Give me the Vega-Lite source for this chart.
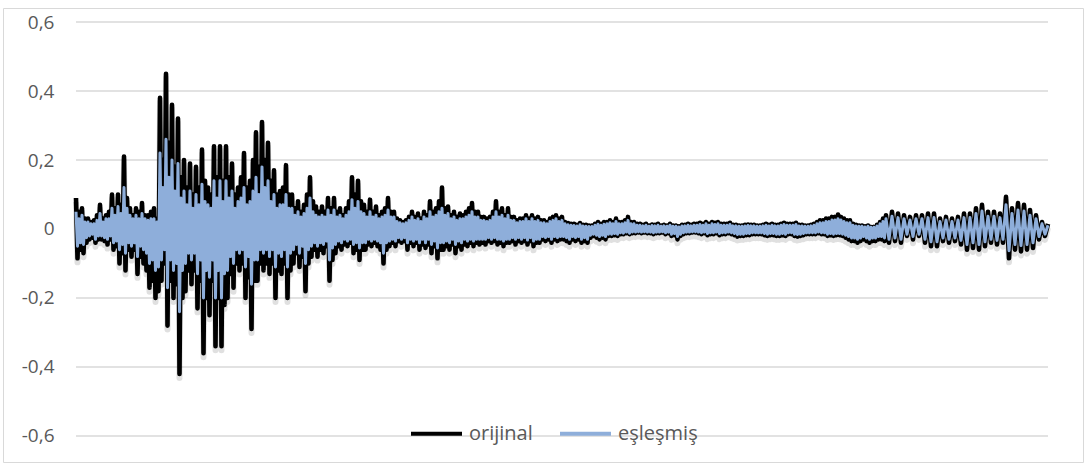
{
"$schema": "https://vega.github.io/schema/vega-lite/v6.json",
"width": 1080,
"height": 454,
"autosize": {"type": "none"},
"padding": {"left": 3, "top": 8, "right": 3, "bottom": 5},
"background": "#ffffff",
"config": {
  "view": {"stroke": "#d9d9d9", "strokeWidth": 1},
  "font": "Open Sans",
  "legend": {"labelFont": "Open Sans", "labelFontSize": 20, "labelColor": "#595959"},
  "axisY": {"labelFont": "Open Sans", "labelFontSize": 19, "labelColor": "#595959"}
},
"datasets": {
  "grid": [{"g": -0.6}, {"g": -0.4}, {"g": -0.2}, {"g": 0}, {"g": 0.2}, {"g": 0.4}, {"g": 0.6}],
  "sig": [
{"t":0,"o":0.09,"e":0.05},{"t":0.5,"o":-0.085,"e":-0.05},{"t":1,"o":0.05,"e":0.03},{"t":1.5,"o":-0.06,"e":-0.04},
{"t":2,"o":0.06,"e":0.04},{"t":2.5,"o":-0.07,"e":-0.045},{"t":3,"o":0.03,"e":0.02},{"t":3.5,"o":-0.04,"e":-0.025},
{"t":4,"o":0.03,"e":0.02},{"t":4.5,"o":-0.03,"e":-0.02},{"t":5,"o":0.02,"e":0.015},{"t":5.5,"o":-0.025,"e":-0.015},
{"t":6,"o":0.025,"e":0.015},{"t":6.5,"o":-0.04,"e":-0.03},{"t":7,"o":0.04,"e":0.025},{"t":7.5,"o":-0.03,"e":-0.02},
{"t":8,"o":0.07,"e":0.045},{"t":8.5,"o":-0.03,"e":-0.02},{"t":9,"o":0.03,"e":0.02},{"t":9.5,"o":-0.035,"e":-0.025},
{"t":10,"o":0.04,"e":0.03},{"t":10.5,"o":-0.045,"e":-0.03},{"t":11,"o":0.05,"e":0.03},{"t":11.5,"o":-0.03,"e":-0.02},
{"t":12,"o":0.1,"e":0.06},{"t":12.5,"o":-0.06,"e":-0.04},{"t":13,"o":0.06,"e":0.04},{"t":13.5,"o":-0.05,"e":-0.035},
{"t":14,"o":0.1,"e":0.065},{"t":14.5,"o":-0.1,"e":-0.06},{"t":15,"o":0.07,"e":0.045},{"t":15.5,"o":-0.07,"e":-0.045},
{"t":16,"o":0.21,"e":0.12},{"t":16.5,"o":-0.12,"e":-0.07},{"t":17,"o":0.09,"e":0.06},{"t":17.5,"o":-0.06,"e":-0.04},
{"t":18,"o":0.06,"e":0.04},{"t":18.5,"o":-0.08,"e":-0.05},{"t":19,"o":0.04,"e":0.03},{"t":19.5,"o":-0.06,"e":-0.04},
{"t":20,"o":0.06,"e":0.04},{"t":20.5,"o":-0.13,"e":-0.08},{"t":21,"o":0.05,"e":0.03},{"t":21.5,"o":-0.08,"e":-0.05},
{"t":22,"o":0.075,"e":0.045},{"t":22.5,"o":-0.1,"e":-0.06},{"t":23,"o":0.04,"e":0.03},{"t":23.5,"o":-0.12,"e":-0.07},
{"t":24,"o":0.04,"e":0.025},{"t":24.5,"o":-0.17,"e":-0.1},{"t":25,"o":0.05,"e":0.03},{"t":25.5,"o":-0.15,"e":-0.09},
{"t":26,"o":0.06,"e":0.03},{"t":26.5,"o":-0.2,"e":-0.12},{"t":27,"o":0.03,"e":0.02},{"t":27.5,"o":-0.18,"e":-0.11},
{"t":28,"o":0.38,"e":0.22},{"t":28.5,"o":-0.15,"e":-0.09},{"t":29,"o":0.2,"e":0.12},{"t":29.5,"o":-0.1,"e":-0.06},
{"t":30,"o":0.45,"e":0.26},{"t":30.5,"o":-0.28,"e":-0.17},{"t":31,"o":0.25,"e":0.15},{"t":31.5,"o":-0.15,"e":-0.09},
{"t":32,"o":0.36,"e":0.2},{"t":32.5,"o":-0.2,"e":-0.12},{"t":33,"o":0.18,"e":0.11},{"t":33.5,"o":-0.16,"e":-0.1},
{"t":34,"o":0.32,"e":0.19},{"t":34.5,"o":-0.42,"e":-0.24},{"t":35,"o":0.15,"e":0.09},{"t":35.5,"o":-0.2,"e":-0.12},
{"t":36,"o":0.2,"e":0.11},{"t":36.5,"o":-0.18,"e":-0.1},{"t":37,"o":0.12,"e":0.07},{"t":37.5,"o":-0.12,"e":-0.07},
{"t":38,"o":0.19,"e":0.11},{"t":38.5,"o":-0.16,"e":-0.09},{"t":39,"o":0.1,"e":0.06},{"t":39.5,"o":-0.12,"e":-0.07},
{"t":40,"o":0.18,"e":0.1},{"t":40.5,"o":-0.23,"e":-0.13},{"t":41,"o":0.12,"e":0.07},{"t":41.5,"o":-0.15,"e":-0.09},
{"t":42,"o":0.23,"e":0.13},{"t":42.5,"o":-0.36,"e":-0.2},{"t":43,"o":0.14,"e":0.08},{"t":43.5,"o":-0.2,"e":-0.12},
{"t":44,"o":0.12,"e":0.07},{"t":44.5,"o":-0.25,"e":-0.14},{"t":45,"o":0.1,"e":0.06},{"t":45.5,"o":-0.15,"e":-0.09},
{"t":46,"o":0.24,"e":0.14},{"t":46.5,"o":-0.34,"e":-0.2},{"t":47,"o":0.15,"e":0.09},{"t":47.5,"o":-0.2,"e":-0.12},
{"t":48,"o":0.24,"e":0.14},{"t":48.5,"o":-0.34,"e":-0.2},{"t":49,"o":0.14,"e":0.08},{"t":49.5,"o":-0.22,"e":-0.13},
{"t":50,"o":0.24,"e":0.14},{"t":50.5,"o":-0.2,"e":-0.12},{"t":51,"o":0.15,"e":0.09},{"t":51.5,"o":-0.13,"e":-0.08},
{"t":52,"o":0.19,"e":0.11},{"t":52.5,"o":-0.17,"e":-0.1},{"t":53,"o":0.1,"e":0.06},{"t":53.5,"o":-0.1,"e":-0.06},
{"t":54,"o":0.12,"e":0.08},{"t":54.5,"o":-0.12,"e":-0.07},{"t":55,"o":0.15,"e":0.09},{"t":55.5,"o":-0.1,"e":-0.06},
{"t":56,"o":0.22,"e":0.12},{"t":56.5,"o":-0.2,"e":-0.11},{"t":57,"o":0.12,"e":0.07},{"t":57.5,"o":-0.14,"e":-0.08},
{"t":58,"o":0.14,"e":0.08},{"t":58.5,"o":-0.29,"e":-0.16},{"t":59,"o":0.2,"e":0.11},{"t":59.5,"o":-0.15,"e":-0.09},
{"t":60,"o":0.28,"e":0.15},{"t":60.5,"o":-0.15,"e":-0.09},{"t":61,"o":0.18,"e":0.1},{"t":61.5,"o":-0.1,"e":-0.06},
{"t":62,"o":0.31,"e":0.18},{"t":62.5,"o":-0.12,"e":-0.07},{"t":63,"o":0.2,"e":0.12},{"t":63.5,"o":-0.1,"e":-0.06},
{"t":64,"o":0.25,"e":0.14},{"t":64.5,"o":-0.13,"e":-0.08},{"t":65,"o":0.14,"e":0.08},{"t":65.5,"o":-0.1,"e":-0.06},
{"t":66,"o":0.17,"e":0.1},{"t":66.5,"o":-0.2,"e":-0.11},{"t":67,"o":0.1,"e":0.06},{"t":67.5,"o":-0.12,"e":-0.07},
{"t":68,"o":0.11,"e":0.07},{"t":68.5,"o":-0.13,"e":-0.08},{"t":69,"o":0.12,"e":0.07},{"t":69.5,"o":-0.1,"e":-0.06},
{"t":70,"o":0.185,"e":0.1},{"t":70.5,"o":-0.2,"e":-0.11},{"t":71,"o":0.1,"e":0.06},{"t":71.5,"o":-0.12,"e":-0.07},
{"t":72,"o":0.1,"e":0.06},{"t":72.5,"o":-0.1,"e":-0.06},{"t":73,"o":0.06,"e":0.04},{"t":73.5,"o":-0.07,"e":-0.045},
{"t":74,"o":0.08,"e":0.05},{"t":74.5,"o":-0.11,"e":-0.07},{"t":75,"o":0.05,"e":0.035},{"t":75.5,"o":-0.08,"e":-0.05},
{"t":76,"o":0.07,"e":0.045},{"t":76.5,"o":-0.18,"e":-0.1},{"t":77,"o":0.1,"e":0.06},{"t":77.5,"o":-0.1,"e":-0.06},
{"t":78,"o":0.15,"e":0.09},{"t":78.5,"o":-0.08,"e":-0.05},{"t":79,"o":0.08,"e":0.05},{"t":79.5,"o":-0.06,"e":-0.04},
{"t":80,"o":0.065,"e":0.04},{"t":80.5,"o":-0.08,"e":-0.05},{"t":81,"o":0.05,"e":0.035},{"t":81.5,"o":-0.06,"e":-0.04},
{"t":82,"o":0.065,"e":0.04},{"t":82.5,"o":-0.07,"e":-0.045},{"t":83,"o":0.05,"e":0.035},{"t":83.5,"o":-0.05,"e":-0.035},
{"t":84,"o":0.09,"e":0.055},{"t":84.5,"o":-0.15,"e":-0.09},{"t":85,"o":0.06,"e":0.04},{"t":85.5,"o":-0.09,"e":-0.055},
{"t":86,"o":0.09,"e":0.055},{"t":86.5,"o":-0.07,"e":-0.045},{"t":87,"o":0.05,"e":0.035},{"t":87.5,"o":-0.05,"e":-0.035},
{"t":88,"o":0.06,"e":0.04},{"t":88.5,"o":-0.06,"e":-0.04},{"t":89,"o":0.04,"e":0.03},{"t":89.5,"o":-0.045,"e":-0.03},
{"t":90,"o":0.06,"e":0.04},{"t":90.5,"o":-0.05,"e":-0.035},{"t":91,"o":0.08,"e":0.05},{"t":91.5,"o":-0.04,"e":-0.03},
{"t":92,"o":0.15,"e":0.085},{"t":92.5,"o":-0.07,"e":-0.045},{"t":93,"o":0.1,"e":0.06},{"t":93.5,"o":-0.06,"e":-0.04},
{"t":94,"o":0.14,"e":0.08},{"t":94.5,"o":-0.09,"e":-0.055},{"t":95,"o":0.08,"e":0.05},{"t":95.5,"o":-0.06,"e":-0.04},
{"t":96,"o":0.07,"e":0.045},{"t":96.5,"o":-0.06,"e":-0.04},{"t":97,"o":0.05,"e":0.035},{"t":97.5,"o":-0.045,"e":-0.03},
{"t":98,"o":0.085,"e":0.05},{"t":98.5,"o":-0.05,"e":-0.035},{"t":99,"o":0.05,"e":0.035},{"t":99.5,"o":-0.04,"e":-0.03},
{"t":100,"o":0.065,"e":0.04},{"t":100.5,"o":-0.05,"e":-0.035},{"t":101,"o":0.04,"e":0.03},{"t":101.5,"o":-0.06,"e":-0.04},
{"t":102,"o":0.05,"e":0.035},{"t":102.5,"o":-0.1,"e":-0.07},{"t":103,"o":0.06,"e":0.04},{"t":103.5,"o":-0.06,"e":-0.04},
{"t":104,"o":0.09,"e":0.055},{"t":104.5,"o":-0.05,"e":-0.035},{"t":105,"o":0.05,"e":0.035},{"t":105.5,"o":-0.04,"e":-0.03},
{"t":106,"o":0.05,"e":0.035},{"t":106.5,"o":-0.05,"e":-0.035},{"t":107,"o":0.03,"e":0.022},{"t":107.5,"o":-0.035,"e":-0.025},
{"t":108,"o":0.025,"e":0.018},{"t":108.5,"o":-0.04,"e":-0.03},{"t":109,"o":0.02,"e":0.015},{"t":109.5,"o":-0.035,"e":-0.025},
{"t":110,"o":0.025,"e":0.018},{"t":110.5,"o":-0.06,"e":-0.04},{"t":111,"o":0.035,"e":0.025},{"t":111.5,"o":-0.04,"e":-0.03},
{"t":112,"o":0.05,"e":0.035},{"t":112.5,"o":-0.05,"e":-0.035},{"t":113,"o":0.035,"e":0.025},{"t":113.5,"o":-0.04,"e":-0.03},
{"t":114,"o":0.045,"e":0.03},{"t":114.5,"o":-0.06,"e":-0.04},{"t":115,"o":0.03,"e":0.022},{"t":115.5,"o":-0.045,"e":-0.03},
{"t":116,"o":0.05,"e":0.035},{"t":116.5,"o":-0.055,"e":-0.04},{"t":117,"o":0.04,"e":0.03},{"t":117.5,"o":-0.045,"e":-0.03},
{"t":118,"o":0.08,"e":0.05},{"t":118.5,"o":-0.07,"e":-0.045},{"t":119,"o":0.05,"e":0.035},{"t":119.5,"o":-0.05,"e":-0.035},
{"t":120,"o":0.06,"e":0.04},{"t":120.5,"o":-0.085,"e":-0.055},{"t":121,"o":0.08,"e":0.05},{"t":121.5,"o":-0.06,"e":-0.04},
{"t":122,"o":0.12,"e":0.06},{"t":122.5,"o":-0.06,"e":-0.04},{"t":123,"o":0.06,"e":0.04},{"t":123.5,"o":-0.05,"e":-0.035},
{"t":124,"o":0.065,"e":0.045},{"t":124.5,"o":-0.06,"e":-0.04},{"t":125,"o":0.04,"e":0.03},{"t":125.5,"o":-0.045,"e":-0.03},
{"t":126,"o":0.05,"e":0.035},{"t":126.5,"o":-0.07,"e":-0.045},{"t":127,"o":0.035,"e":0.025},{"t":127.5,"o":-0.05,"e":-0.035},
{"t":128,"o":0.045,"e":0.03},{"t":128.5,"o":-0.06,"e":-0.04},{"t":129,"o":0.04,"e":0.03},{"t":129.5,"o":-0.045,"e":-0.03},
{"t":130,"o":0.05,"e":0.035},{"t":130.5,"o":-0.05,"e":-0.035},{"t":131,"o":0.06,"e":0.04},{"t":131.5,"o":-0.04,"e":-0.03},
{"t":132,"o":0.075,"e":0.05},{"t":132.5,"o":-0.05,"e":-0.035},{"t":133,"o":0.05,"e":0.035},{"t":133.5,"o":-0.04,"e":-0.03},
{"t":134,"o":0.05,"e":0.035},{"t":134.5,"o":-0.045,"e":-0.03},{"t":135,"o":0.035,"e":0.025},{"t":135.5,"o":-0.04,"e":-0.03},
{"t":136,"o":0.035,"e":0.025},{"t":136.5,"o":-0.045,"e":-0.03},{"t":137,"o":0.03,"e":0.022},{"t":137.5,"o":-0.035,"e":-0.025},
{"t":138,"o":0.035,"e":0.025},{"t":138.5,"o":-0.04,"e":-0.03},{"t":139,"o":0.05,"e":0.035},{"t":139.5,"o":-0.035,"e":-0.025},
{"t":140,"o":0.08,"e":0.05},{"t":140.5,"o":-0.045,"e":-0.03},{"t":141,"o":0.05,"e":0.035},{"t":141.5,"o":-0.04,"e":-0.03},
{"t":142,"o":0.06,"e":0.04},{"t":142.5,"o":-0.05,"e":-0.035},{"t":143,"o":0.04,"e":0.03},{"t":143.5,"o":-0.04,"e":-0.03},
{"t":144,"o":0.06,"e":0.04},{"t":144.5,"o":-0.04,"e":-0.03},{"t":145,"o":0.035,"e":0.025},{"t":145.5,"o":-0.035,"e":-0.025},
{"t":146,"o":0.035,"e":0.025},{"t":146.5,"o":-0.045,"e":-0.03},{"t":147,"o":0.025,"e":0.018},{"t":147.5,"o":-0.035,"e":-0.025},
{"t":148,"o":0.03,"e":0.022},{"t":148.5,"o":-0.04,"e":-0.03},{"t":149,"o":0.03,"e":0.022},{"t":149.5,"o":-0.035,"e":-0.025},
{"t":150,"o":0.04,"e":0.03},{"t":150.5,"o":-0.045,"e":-0.032},{"t":151,"o":0.03,"e":0.022},{"t":151.5,"o":-0.035,"e":-0.025},
{"t":152,"o":0.04,"e":0.03},{"t":152.5,"o":-0.05,"e":-0.035},{"t":153,"o":0.03,"e":0.022},{"t":153.5,"o":-0.04,"e":-0.03},
{"t":154,"o":0.035,"e":0.025},{"t":154.5,"o":-0.04,"e":-0.03},{"t":155,"o":0.025,"e":0.018},{"t":155.5,"o":-0.03,"e":-0.022},
{"t":156,"o":0.025,"e":0.018},{"t":156.5,"o":-0.035,"e":-0.025},{"t":157,"o":0.02,"e":0.015},{"t":157.5,"o":-0.03,"e":-0.022},
{"t":158,"o":0.03,"e":0.022},{"t":158.5,"o":-0.04,"e":-0.03},{"t":159,"o":0.035,"e":0.025},{"t":159.5,"o":-0.03,"e":-0.022},
{"t":160,"o":0.04,"e":0.03},{"t":160.5,"o":-0.035,"e":-0.025},{"t":161,"o":0.03,"e":0.022},{"t":161.5,"o":-0.03,"e":-0.022},
{"t":162,"o":0.035,"e":0.025},{"t":162.5,"o":-0.03,"e":-0.022},{"t":163,"o":0.02,"e":0.015},{"t":163.5,"o":-0.035,"e":-0.025},
{"t":164,"o":0.017,"e":0.012},{"t":164.5,"o":-0.04,"e":-0.03},{"t":165,"o":0.015,"e":0.011},{"t":165.5,"o":-0.03,"e":-0.022},
{"t":166,"o":0.015,"e":0.01},{"t":166.5,"o":-0.035,"e":-0.025},{"t":167,"o":0.012,"e":0.009},{"t":167.5,"o":-0.03,"e":-0.022},
{"t":168,"o":0.017,"e":0.012},{"t":168.5,"o":-0.04,"e":-0.03},{"t":169,"o":0.012,"e":0.009},{"t":169.5,"o":-0.035,"e":-0.025},
{"t":170,"o":0.012,"e":0.008},{"t":170.5,"o":-0.04,"e":-0.03},{"t":171,"o":0.01,"e":0.007},{"t":171.5,"o":-0.025,"e":-0.018},
{"t":172,"o":0.01,"e":0.007},{"t":172.5,"o":-0.02,"e":-0.015},{"t":173,"o":0.015,"e":0.011},{"t":173.5,"o":-0.025,"e":-0.018},
{"t":174,"o":0.02,"e":0.014},{"t":174.5,"o":-0.03,"e":-0.022},{"t":175,"o":0.015,"e":0.011},{"t":175.5,"o":-0.025,"e":-0.018},
{"t":176,"o":0.02,"e":0.014},{"t":176.5,"o":-0.03,"e":-0.022},{"t":177,"o":0.02,"e":0.015},{"t":177.5,"o":-0.02,"e":-0.015},
{"t":178,"o":0.025,"e":0.018},{"t":178.5,"o":-0.02,"e":-0.015},{"t":179,"o":0.02,"e":0.015},{"t":179.5,"o":-0.018,"e":-0.013},
{"t":180,"o":0.03,"e":0.022},{"t":180.5,"o":-0.02,"e":-0.015},{"t":181,"o":0.02,"e":0.015},{"t":181.5,"o":-0.015,"e":-0.011},
{"t":182,"o":0.02,"e":0.015},{"t":182.5,"o":-0.015,"e":-0.012},{"t":183,"o":0.025,"e":0.018},{"t":183.5,"o":-0.012,"e":-0.009},
{"t":184,"o":0.035,"e":0.025},{"t":184.5,"o":-0.015,"e":-0.012},{"t":185,"o":0.02,"e":0.015},{"t":185.5,"o":-0.012,"e":-0.009},
{"t":186,"o":0.02,"e":0.015},{"t":186.5,"o":-0.012,"e":-0.009},{"t":187,"o":0.015,"e":0.011},{"t":187.5,"o":-0.01,"e":-0.008},
{"t":188,"o":0.015,"e":0.011},{"t":188.5,"o":-0.012,"e":-0.009},{"t":189,"o":0.012,"e":0.009},{"t":189.5,"o":-0.01,"e":-0.008},
{"t":190,"o":0.015,"e":0.011},{"t":190.5,"o":-0.012,"e":-0.009},{"t":191,"o":0.01,"e":0.008},{"t":191.5,"o":-0.012,"e":-0.009},
{"t":192,"o":0.013,"e":0.01},{"t":192.5,"o":-0.015,"e":-0.011},{"t":193,"o":0.012,"e":0.009},{"t":193.5,"o":-0.012,"e":-0.009},
{"t":194,"o":0.015,"e":0.011},{"t":194.5,"o":-0.012,"e":-0.009},{"t":195,"o":0.01,"e":0.008},{"t":195.5,"o":-0.01,"e":-0.008},
{"t":196,"o":0.012,"e":0.009},{"t":196.5,"o":-0.015,"e":-0.011},{"t":197,"o":0.01,"e":0.008},{"t":197.5,"o":-0.012,"e":-0.009},
{"t":198,"o":0.015,"e":0.011},{"t":198.5,"o":-0.02,"e":-0.015},{"t":199,"o":0.01,"e":0.008},{"t":199.5,"o":-0.018,"e":-0.013},
{"t":200,"o":0.01,"e":0.008},{"t":200.5,"o":-0.03,"e":-0.022},{"t":201,"o":0.008,"e":0.006},{"t":201.5,"o":-0.02,"e":-0.015},
{"t":202,"o":0.012,"e":0.009},{"t":202.5,"o":-0.015,"e":-0.011},{"t":203,"o":0.012,"e":0.009},{"t":203.5,"o":-0.012,"e":-0.009},
{"t":204,"o":0.015,"e":0.011},{"t":204.5,"o":-0.012,"e":-0.009},{"t":205,"o":0.012,"e":0.009},{"t":205.5,"o":-0.01,"e":-0.008},
{"t":206,"o":0.015,"e":0.011},{"t":206.5,"o":-0.01,"e":-0.008},{"t":207,"o":0.015,"e":0.011},{"t":207.5,"o":-0.012,"e":-0.009},
{"t":208,"o":0.018,"e":0.013},{"t":208.5,"o":-0.015,"e":-0.011},{"t":209,"o":0.015,"e":0.011},{"t":209.5,"o":-0.012,"e":-0.009},
{"t":210,"o":0.02,"e":0.015},{"t":210.5,"o":-0.018,"e":-0.013},{"t":211,"o":0.015,"e":0.011},{"t":211.5,"o":-0.015,"e":-0.011},
{"t":212,"o":0.02,"e":0.015},{"t":212.5,"o":-0.015,"e":-0.011},{"t":213,"o":0.018,"e":0.013},{"t":213.5,"o":-0.012,"e":-0.009},
{"t":214,"o":0.02,"e":0.015},{"t":214.5,"o":-0.018,"e":-0.013},{"t":215,"o":0.015,"e":0.011},{"t":215.5,"o":-0.015,"e":-0.011},
{"t":216,"o":0.015,"e":0.011},{"t":216.5,"o":-0.015,"e":-0.011},{"t":217,"o":0.015,"e":0.011},{"t":217.5,"o":-0.012,"e":-0.009},
{"t":218,"o":0.018,"e":0.013},{"t":218.5,"o":-0.015,"e":-0.011},{"t":219,"o":0.012,"e":0.009},{"t":219.5,"o":-0.018,"e":-0.013},
{"t":220,"o":0.012,"e":0.009},{"t":220.5,"o":-0.022,"e":-0.016},{"t":221,"o":0.01,"e":0.008},{"t":221.5,"o":-0.02,"e":-0.015},
{"t":222,"o":0.01,"e":0.008},{"t":222.5,"o":-0.02,"e":-0.015},{"t":223,"o":0.012,"e":0.009},{"t":223.5,"o":-0.018,"e":-0.013},
{"t":224,"o":0.013,"e":0.01},{"t":224.5,"o":-0.018,"e":-0.013},{"t":225,"o":0.012,"e":0.009},{"t":225.5,"o":-0.015,"e":-0.011},
{"t":226,"o":0.012,"e":0.009},{"t":226.5,"o":-0.015,"e":-0.011},{"t":227,"o":0.01,"e":0.008},{"t":227.5,"o":-0.015,"e":-0.011},
{"t":228,"o":0.01,"e":0.008},{"t":228.5,"o":-0.015,"e":-0.011},{"t":229,"o":0.012,"e":0.009},{"t":229.5,"o":-0.018,"e":-0.013},
{"t":230,"o":0.015,"e":0.011},{"t":230.5,"o":-0.02,"e":-0.015},{"t":231,"o":0.012,"e":0.009},{"t":231.5,"o":-0.018,"e":-0.013},
{"t":232,"o":0.015,"e":0.011},{"t":232.5,"o":-0.018,"e":-0.013},{"t":233,"o":0.012,"e":0.009},{"t":233.5,"o":-0.02,"e":-0.015},
{"t":234,"o":0.012,"e":0.009},{"t":234.5,"o":-0.02,"e":-0.015},{"t":235,"o":0.015,"e":0.011},{"t":235.5,"o":-0.018,"e":-0.013},
{"t":236,"o":0.018,"e":0.013},{"t":236.5,"o":-0.02,"e":-0.015},{"t":237,"o":0.015,"e":0.011},{"t":237.5,"o":-0.015,"e":-0.011},
{"t":238,"o":0.015,"e":0.011},{"t":238.5,"o":-0.015,"e":-0.011},{"t":239,"o":0.015,"e":0.011},{"t":239.5,"o":-0.02,"e":-0.015},
{"t":240,"o":0.018,"e":0.013},{"t":240.5,"o":-0.022,"e":-0.016},{"t":241,"o":0.012,"e":0.009},{"t":241.5,"o":-0.02,"e":-0.015},
{"t":242,"o":0.012,"e":0.009},{"t":242.5,"o":-0.018,"e":-0.013},{"t":243,"o":0.01,"e":0.008},{"t":243.5,"o":-0.015,"e":-0.011},
{"t":244,"o":0.01,"e":0.008},{"t":244.5,"o":-0.015,"e":-0.011},{"t":245,"o":0.012,"e":0.009},{"t":245.5,"o":-0.015,"e":-0.011},
{"t":246,"o":0.015,"e":0.011},{"t":246.5,"o":-0.015,"e":-0.011},{"t":247,"o":0.02,"e":0.015},{"t":247.5,"o":-0.012,"e":-0.009},
{"t":248,"o":0.025,"e":0.018},{"t":248.5,"o":-0.015,"e":-0.011},{"t":249,"o":0.025,"e":0.018},{"t":249.5,"o":-0.015,"e":-0.011},
{"t":250,"o":0.03,"e":0.022},{"t":250.5,"o":-0.02,"e":-0.015},{"t":251,"o":0.03,"e":0.022},{"t":251.5,"o":-0.018,"e":-0.013},
{"t":252,"o":0.035,"e":0.026},{"t":252.5,"o":-0.02,"e":-0.015},{"t":253,"o":0.035,"e":0.026},{"t":253.5,"o":-0.018,"e":-0.013},
{"t":254,"o":0.042,"e":0.03},{"t":254.5,"o":-0.018,"e":-0.013},{"t":255,"o":0.035,"e":0.026},{"t":255.5,"o":-0.02,"e":-0.015},
{"t":256,"o":0.03,"e":0.022},{"t":256.5,"o":-0.025,"e":-0.018},{"t":257,"o":0.025,"e":0.018},{"t":257.5,"o":-0.03,"e":-0.022},
{"t":258,"o":0.025,"e":0.018},{"t":258.5,"o":-0.035,"e":-0.026},{"t":259,"o":0.015,"e":0.011},{"t":259.5,"o":-0.035,"e":-0.026},
{"t":260,"o":0.012,"e":0.009},{"t":260.5,"o":-0.04,"e":-0.03},{"t":261,"o":0.01,"e":0.008},{"t":261.5,"o":-0.035,"e":-0.026},
{"t":262,"o":0.01,"e":0.008},{"t":262.5,"o":-0.03,"e":-0.022},{"t":263,"o":0.008,"e":0.006},{"t":263.5,"o":-0.035,"e":-0.026},
{"t":264,"o":0.01,"e":0.008},{"t":264.5,"o":-0.04,"e":-0.03},{"t":265,"o":0.006,"e":0.005},{"t":265.5,"o":-0.035,"e":-0.026},
{"t":266,"o":0.006,"e":0.005},{"t":266.5,"o":-0.035,"e":-0.026},{"t":267,"o":0.012,"e":0.009},{"t":267.5,"o":-0.03,"e":-0.022},
{"t":268,"o":0.02,"e":0.015},{"t":268.5,"o":-0.03,"e":-0.022},{"t":269,"o":0.03,"e":0.022},{"t":269.5,"o":-0.035,"e":-0.026},
{"t":270,"o":0.04,"e":0.03},{"t":271,"o":-0.04,"e":-0.03},
{"t":272,"o":0.05,"e":0.037},{"t":273,"o":-0.035,"e":-0.026},{"t":274,"o":0.045,"e":0.033},{"t":275,"o":-0.04,"e":-0.03},
{"t":276,"o":0.04,"e":0.03},{"t":277,"o":-0.02,"e":-0.015},{"t":278,"o":0.035,"e":0.026},{"t":279,"o":-0.03,"e":-0.022},
{"t":280,"o":0.04,"e":0.03},{"t":281,"o":-0.02,"e":-0.015},{"t":282,"o":0.04,"e":0.03},{"t":283,"o":-0.04,"e":-0.03},
{"t":284,"o":0.045,"e":0.033},{"t":285,"o":-0.05,"e":-0.037},{"t":286,"o":0.045,"e":0.033},{"t":287,"o":-0.05,"e":-0.037},
{"t":288,"o":0.03,"e":0.022},{"t":289,"o":-0.035,"e":-0.026},{"t":290,"o":0.035,"e":0.026},{"t":291,"o":-0.04,"e":-0.03},
{"t":292,"o":0.03,"e":0.022},{"t":293,"o":-0.035,"e":-0.026},{"t":294,"o":0.035,"e":0.026},{"t":295,"o":-0.045,"e":-0.033},
{"t":296,"o":0.045,"e":0.033},{"t":297,"o":-0.06,"e":-0.045},{"t":298,"o":0.045,"e":0.033},{"t":299,"o":-0.055,"e":-0.04},
{"t":300,"o":0.06,"e":0.045},{"t":301,"o":-0.06,"e":-0.045},{"t":302,"o":0.07,"e":0.052},{"t":303,"o":-0.05,"e":-0.037},
{"t":304,"o":0.05,"e":0.037},{"t":305,"o":-0.04,"e":-0.03},{"t":306,"o":0.05,"e":0.037},{"t":307,"o":-0.045,"e":-0.033},
{"t":308,"o":0.045,"e":0.033},{"t":309,"o":-0.04,"e":-0.03},{"t":310,"o":0.093,"e":0.07},{"t":311,"o":-0.085,"e":-0.063},
{"t":312,"o":0.06,"e":0.045},{"t":313,"o":-0.06,"e":-0.045},{"t":314,"o":0.075,"e":0.055},{"t":315,"o":-0.065,"e":-0.048},
{"t":316,"o":0.07,"e":0.052},{"t":317,"o":-0.06,"e":-0.045},{"t":318,"o":0.055,"e":0.04},{"t":319,"o":-0.055,"e":-0.04},
{"t":320,"o":0.04,"e":0.03},{"t":321,"o":-0.03,"e":-0.022},{"t":322,"o":0.02,"e":0.015},{"t":323,"o":-0.02,"e":-0.015},
{"t":324,"o":0.015,"e":0.011}
  ]
},
"layer": [
  {
    "data": {"name": "grid"},
    "mark": {"type": "rule", "color": "#d9d9d9", "strokeWidth": 1.3},
    "encoding": {
      "y": {
        "field": "g", "type": "quantitative",
        "scale": {"domain": [-0.6754, 0.6406], "nice": false, "zero": false},
        "axis": {
          "title": null, "values": [-0.6, -0.4, -0.2, 0, 0.2, 0.4, 0.6],
          "domain": false, "ticks": false, "grid": false, "tickSize": 0,
          "offset": -51, "labelPadding": 0,
          "labelExpr": "replace('' + round(datum.value * 10) / 10, '.', ',')"
        }
      },
      "x": {"datum": 0, "type": "quantitative", "scale": {"domain": [-24.333, 335.667], "nice": false, "zero": false}, "axis": null},
      "x2": {"datum": 324}
    }
  },
  {
    "data": {"name": "sig"},
    "mark": {"type": "line", "color": "#000000", "opacity": 0.12, "strokeWidth": 6, "strokeJoin": "round", "yOffset": 4},
    "encoding": {
      "x": {"field": "t", "type": "quantitative"},
      "y": {"field": "o", "type": "quantitative", "title": null}
    }
  },
  {
    "data": {"name": "sig"},
    "mark": {"type": "line", "strokeWidth": 4.6, "strokeJoin": "round", "strokeCap": "butt"},
    "encoding": {
      "x": {"field": "t", "type": "quantitative"},
      "y": {"field": "o", "type": "quantitative", "title": null},
      "color": {
        "datum": "orijinal", "type": "nominal",
        "scale": {"domain": ["orijinal", "eşleşmiş"], "range": ["#000000", "#8EAEDA"]},
        "legend": {
          "title": null, "orient": "none", "direction": "horizontal",
          "legendX": 406, "legendY": 398,
          "symbolType": "stroke", "symbolSize": 2601, "symbolStrokeWidth": 4,
          "labelOffset": 5, "columnPadding": 19
        }
      }
    }
  },
  {
    "data": {"name": "sig"},
    "mark": {"type": "line", "strokeWidth": 3, "strokeJoin": "round", "strokeCap": "butt"},
    "encoding": {
      "x": {"field": "t", "type": "quantitative"},
      "y": {"field": "e", "type": "quantitative", "title": null},
      "color": {"datum": "eşleşmiş", "type": "nominal"}
    }
  }
]
}
